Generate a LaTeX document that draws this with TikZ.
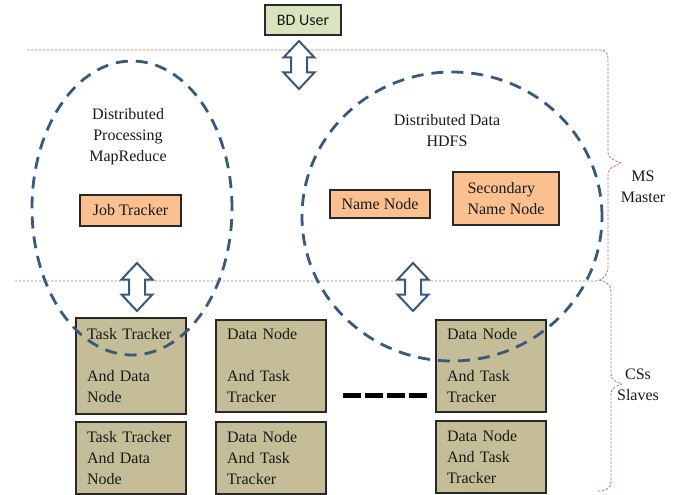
\documentclass[tikz,border=0pt]{standalone}
\usepackage{fontspec}
\setmainfont{Liberation Serif}
\newfontfamily\calib{Carlito}
\definecolor{greenfill}{RGB}{215,228,189}
\definecolor{orangefill}{RGB}{250,192,144}
\definecolor{tanfill}{RGB}{196,189,151}
\definecolor{ellblue}{RGB}{56,88,125}
\definecolor{bracecol}{RGB}{175,125,125}
\definecolor{edgecol}{RGB}{40,40,40}
\definecolor{txtcol}{RGB}{25,25,25}
\tikzset{
  txt/.style={font=\fontsize{16}{21}\selectfont, text=txtcol, inner sep=0pt, align=center},
  tanbox/.style={draw=edgecol, line width=1.4pt, fill=tanfill, minimum width=110pt, text width=88pt, inner xsep=11pt, align=left, font=\fontsize{16}{21}\selectfont, text=txtcol},
  orbox/.style={draw=edgecol, line width=1.1pt, fill=orangefill, font=\fontsize{16}{21}\selectfont, text=txtcol, align=left},
  ellstyle/.style={draw=ellblue, line width=2.8pt, dash pattern=on 12pt off 8pt},
  bracestyle/.style={draw=bracecol, line width=0.8pt, dash pattern=on 2.5pt off 1.5pt},
  arrowstyle/.style={draw=ellblue, line width=2pt, fill=white, line join=miter},
  blockarrow/.pic={\path[arrowstyle] (0,-24) -- (15.5,-7.5) -- (8,-7.5) -- (8,7.5) -- (15.5,7.5) -- (0,24) -- (-15.5,7.5) -- (-8,7.5) -- (-8,-7.5) -- (-15.5,-7.5) -- cycle;}
}
\begin{document}
\begin{tikzpicture}[x=1pt,y=-1pt]
\useasboundingbox (0,0) rectangle (678,495);
% top user
\node[draw=edgecol, line width=1.1pt, fill=greenfill, minimum width=76pt, minimum height=30pt, inner sep=0pt, font=\calib\fontsize{16}{19}\selectfont, text=txtcol] (user) at (303,20) {BD User};
% master / slave braces
\path[bracestyle] (27,50) -- (600,50) .. controls (606,50) and (608,53) .. (608,59) -- (608,153) .. controls (608,158) and (614,160) .. (621,163) .. controls (614,166) and (608,168) .. (608,174) -- (608,266) .. controls (608,274) and (604,280) .. (596,281) -- (15,281);
\path[bracestyle] (599,280) .. controls (606,281) and (611,285) .. (611,292) -- (611,374) .. controls (611,380) and (616,382) .. (622,384) .. controls (616,386) and (611,388) .. (611,394) -- (611,482) .. controls (611,488) and (606,491) .. (597,491);
\node[txt] (ms) at (643,187) {MS\\Master};
\node[txt] (css) at (638,385) {CSs\\Slaves};
% master content
\node[txt] (dp) at (128,137) {Distributed\\Processing\\MapReduce};
\node[txt] (dd) at (447,131) {Distributed Data\\HDFS};
\node[orbox, minimum width=101pt, minimum height=31pt, inner sep=0pt] (jt) at (130.5,210.5) {Job Tracker};
\node[orbox, minimum width=100pt, minimum height=28pt, inner sep=0pt] (nn) at (380,204) {Name Node};
\node[orbox, minimum width=106pt, minimum height=53pt, inner sep=0pt] (snn) at (506,198.5) {Secondary\\Name Node};
% slave boxes
\node[tanbox, minimum height=96pt] (s1) at (131,366) {Task Tracker\\[21pt]And Data\\Node};
\node[tanbox, minimum height=92pt] (s2) at (271,366) {Data Node\\[21pt]And Task\\Tracker};
\node[tanbox, minimum height=92pt] (s3) at (491,366) {Data Node\\[21pt]And Task\\Tracker};
\node[tanbox, minimum height=72pt] (s4) at (131,458) {Task Tracker\\And Data\\Node};
\node[tanbox, minimum height=72pt] (s5) at (271,458) {Data Node\\And Task\\Tracker};
\node[tanbox, minimum height=72pt] (s6) at (491,457) {Data Node\\And Task\\Tracker};
% ellipsis dashes between columns
\draw[line width=5pt, dash pattern=on 18pt off 4pt] (343,395) -- (427,395);
% clusters
\draw[ellstyle] (132,208) ellipse [x radius=100pt, y radius=147pt];
\draw[ellstyle] (452,216.5) ellipse [x radius=150pt, y radius=144.5pt];
% block arrows
\pic at (299,65) {blockarrow};
\pic at (137,287) {blockarrow};
\pic at (413,287) {blockarrow};
\end{tikzpicture}
\end{document}
